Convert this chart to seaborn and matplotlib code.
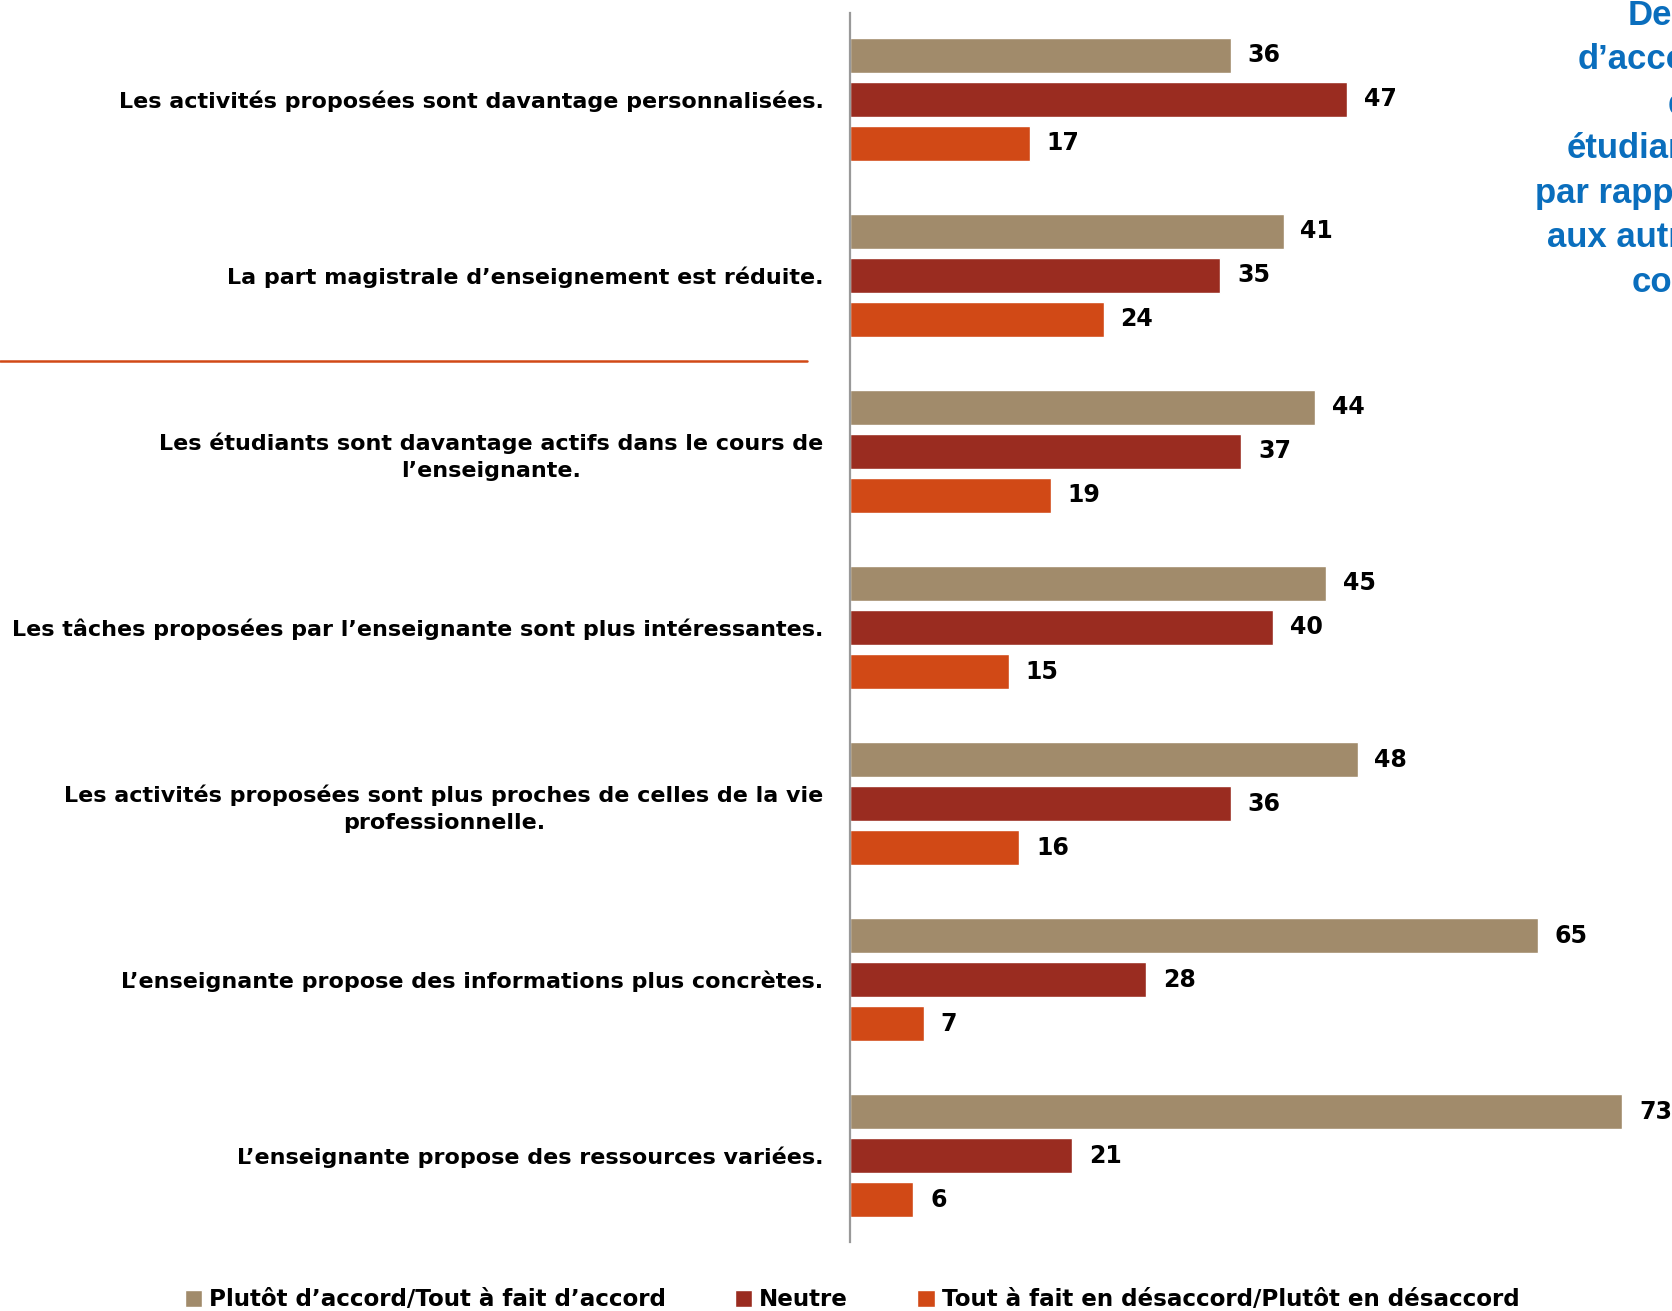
import pandas as pd
import seaborn as sns
import matplotlib.pyplot as plt
from matplotlib.lines import Line2D

# Questions (top to bottom)
questions = [
    "Les activités proposées sont davantage personnalisées.",
    "La part magistrale d’enseignement est réduite.",
    "Les étudiants sont davantage actifs dans le cours de\nl’enseignante.",
    "Les tâches proposées par l’enseignante sont plus intéressantes.",
    "Les activités proposées sont plus proches de celles de la vie\nprofessionnelle.",
    "L’enseignante propose des informations plus concrètes.",
    "L’enseignante propose des ressources variées.",
]
series = [
    "Plutôt d’accord/Tout à fait d’accord",
    "Neutre",
    "Tout à fait en désaccord/Plutôt en désaccord",
]
agree = [36, 41, 44, 45, 48, 65, 73]
neutral = [47, 35, 37, 40, 36, 28, 21]
disagree = [17, 24, 19, 15, 16, 7, 6]
colors = ["#A18B6B", "#9A2C20", "#D14916"]

title_lines = ["Degré", "d’accord", "des", "étudiants", "par rapport", "aux autres", "cours"]

# long format table for seaborn
rows = []
for vals, s in zip([agree, neutral, disagree], series):
    for q, v in zip(questions, vals):
        rows.append({"question": q, "series": s, "value": v})
df = pd.DataFrame(rows)

sns.set_style("white")
plt.rcParams["font.family"] = ["DejaVu Sans"]
plt.rcParams["text.color"] = "black"
plt.rcParams["ytick.color"] = "black"

fig = plt.figure(figsize=(16.72, 13.11), dpi=100)
ax = fig.add_axes([850 / 1672, 1 - 1242 / 1311, 1 - 850 / 1672, 1229 / 1311])

sns.barplot(data=df, y="question", x="value", hue="series", orient="h",
            palette=colors, saturation=1, width=0.75, gap=0.2,
            order=questions, hue_order=series, ax=ax)

for cont in ax.containers:
    ax.bar_label(cont, fmt="%d", padding=12, fontsize=17, fontweight="bold",
                 color="black")

ax.set_xlim(0, 77.7)
ax.set_ylim(6.49, -0.49)
ax.set_xlabel("")
ax.set_ylabel("")
ax.set_xticks([])
for side in ["top", "right", "bottom"]:
    ax.spines[side].set_visible(False)
ax.spines["left"].set_color("#999999")
ax.spines["left"].set_linewidth(1.6)
ax.tick_params(axis="y", length=0, pad=19, labelsize=16)
for lbl in ax.get_yticklabels():
    lbl.set_fontweight("bold")
    lbl.set_multialignment("center")
    lbl.set_linespacing(1.4)

# legend at the bottom
handles, labels = ax.get_legend_handles_labels()
ax.get_legend().remove()
fig.legend(handles, labels, loc="center", ncol=3, frameon=False,
           bbox_to_anchor=(852 / 1672, 1 - 1300 / 1311),
           handlelength=0.75, handleheight=0.75, handletextpad=0.3,
           columnspacing=3.0, prop={"weight": "bold", "size": 16.6})

# orange separator line
fig.add_artist(Line2D([0, 807 / 1672], [1 - 361 / 1311] * 2,
                      color="#D14916", linewidth=1.8))

# blue title, clipped by the figure edge
title_x = [1628, 1578, 1668, 1567, 1535, 1547, 1632]
for i, (t, x0) in enumerate(zip(title_lines, title_x)):
    fig.text(x0 / 1672, 1 - (15 + 44.5 * i) / 1311, t, ha="left", va="center",
             color="#0A6EBD", fontsize=25, fontweight="bold",
             family=["Liberation Sans", "DejaVu Sans"])

fig.savefig("out.png", dpi=100)
